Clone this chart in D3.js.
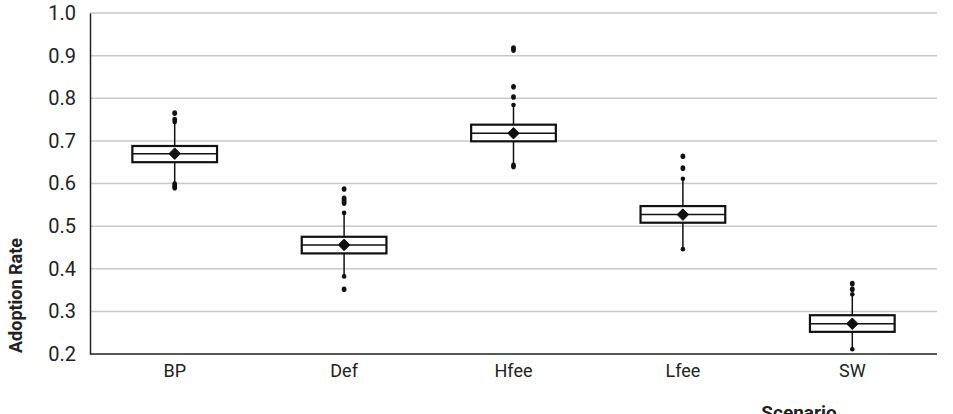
<!DOCTYPE html>
<html>
<head>
<meta charset="utf-8">
<script src="https://cdn.jsdelivr.net/npm/d3@7"></script>
<style>
  body { margin: 0; background: #fff; }
  svg text { font-family: "Roboto", "Liberation Sans", sans-serif; fill: #222; }
</style>
</head>
<body>
<div id="chart"></div>
<script>
  var scenarios = ['BP', 'Def', 'Hfee', 'Lfee', 'SW'];
  var yTicks = [0.2, 0.3, 0.4, 0.5, 0.6, 0.7, 0.8, 0.9, 1.0];

  var whiskerLow  = [0.600, 0.382, 0.644, 0.446, 0.211];
  var q1          = [0.650, 0.436, 0.699, 0.508, 0.252];
  var median      = [0.670, 0.456, 0.718, 0.527, 0.271];
  var q3          = [0.688, 0.475, 0.738, 0.547, 0.291];
  var whiskerHigh = [0.744, 0.531, 0.784, 0.611, 0.340];
  var means       = [0.670, 0.456, 0.718, 0.527, 0.271];
  var outliers = [
    [0.590, 0.595, 0.750, 0.765],
    [0.352, 0.554, 0.559, 0.565, 0.587],
    [0.640, 0.803, 0.827, 0.913, 0.918],
    [0.636, 0.664],
    [0.352, 0.365]
  ];

  var W = 953, H = 414,
      margin = {left: 90, right: 16, top: 13, bottom: 60};

  var svg = d3.select('#chart').append('svg')
    .attr('width', W)
    .attr('height', H);

  var x = d3.scaleBand()
    .domain(scenarios)
    .range([margin.left, W - margin.right])
    .paddingInner(0.5)
    .paddingOuter(0.25);

  var y = d3.scaleLinear()
    .domain([0.2, 1.0])
    .range([H - margin.bottom, margin.top]);

  // gridlines
  svg.append('g')
    .selectAll('line')
    .data(yTicks.slice(1))
    .enter()
    .append('line')
    .attr('x1', margin.left)
    .attr('x2', W - margin.right)
    .attr('y1', function(d) { return y(d); })
    .attr('y2', function(d) { return y(d); })
    .attr('stroke', '#c8c8c8')
    .attr('stroke-width', 1.5);

  // y axis
  var yAxis = svg.append('g')
    .attr('transform', 'translate(' + margin.left + ',0)')
    .call(d3.axisLeft(y).tickValues(yTicks).tickFormat(d3.format('.1f')).tickSize(0).tickPadding(14));
  yAxis.select('.domain').attr('stroke', '#222').attr('stroke-width', 1.5);
  yAxis.selectAll('text').style('font-size', '20px');

  // x axis
  var xAxis = svg.append('g')
    .attr('transform', 'translate(0,' + (H - margin.bottom) + ')')
    .call(d3.axisBottom(x).tickSize(0).tickPadding(10));
  xAxis.select('.domain').attr('d', 'M' + margin.left + ',0H' + (W - margin.right))
    .attr('stroke', '#222').attr('stroke-width', 1.5);
  xAxis.selectAll('text').style('font-size', '18px');

  var boxes = svg.append('g')
    .selectAll('g')
    .data(scenarios)
    .enter()
    .append('g');

  var cx = function(d) { return x(d) + x.bandwidth() / 2; };

  // whiskers
  boxes.append('line')
    .attr('x1', cx).attr('x2', cx)
    .attr('y1', function(d, i) { return y(whiskerLow[i]); })
    .attr('y2', function(d, i) { return y(whiskerHigh[i]); })
    .attr('stroke', '#111')
    .attr('stroke-width', 1.5);

  boxes.append('rect')
    .attr('x', function(d) { return x(d); })
    .attr('width', x.bandwidth())
    .attr('y', function(d, i) { return y(q3[i]); })
    .attr('height', function(d, i) { return y(q1[i]) - y(q3[i]); })
    .attr('fill', '#fff')
    .attr('stroke', '#111')
    .attr('stroke-width', 2.2);

  boxes.append('line')
    .attr('x1', function(d) { return x(d); })
    .attr('x2', function(d) { return x(d) + x.bandwidth(); })
    .attr('y1', function(d, i) { return y(median[i]); })
    .attr('y2', function(d, i) { return y(median[i]); })
    .attr('stroke', '#111')
    .attr('stroke-width', 1.5);

  // whisker end dots
  boxes.selectAll('circle.end')
    .data(function(d, i) { return [{c: d, v: whiskerLow[i]}, {c: d, v: whiskerHigh[i]}]; })
    .enter()
    .append('circle')
    .attr('class', 'end')
    .attr('cx', function(o) { return cx(o.c); })
    .attr('cy', function(o) { return y(o.v); })
    .attr('r', 2.3)
    .attr('fill', '#111');

  boxes.selectAll('ellipse.out')
    .data(function(d, i) { return outliers[i].map(function(v) { return {c: d, v: v}; }); })
    .enter()
    .append('ellipse')
    .attr('class', 'out')
    .attr('cx', function(o) { return cx(o.c); })
    .attr('cy', function(o) { return y(o.v); })
    .attr('rx', 2.4)
    .attr('ry', 2.8)
    .attr('fill', '#111');

  // mean markers
  boxes.append('path')
    .attr('d', d3.symbol().type(d3.symbolDiamond2).size(85))
    .attr('transform', function(d, i) { return 'translate(' + cx(d) + ',' + y(means[i]) + ')'; })
    .attr('fill', '#111')
    .attr('stroke', '#111')
    .attr('stroke-width', 1)
    .attr('stroke-linejoin', 'round');

  svg.append('text')
    .attr('transform', 'translate(22,' + ((H - margin.bottom) - 1) + ') rotate(-90)')
    .attr('text-anchor', 'start')
    .style('font-size', '18px')
    .style('font-weight', 'bold')
    .text('Adoption Rate');

  svg.append('text')
    .attr('x', 799)
    .attr('y', 419)
    .attr('text-anchor', 'middle')
    .style('font-size', '19px')
    .style('font-weight', 'bold')
    .text('Scenario');
</script>
</body>
</html>
